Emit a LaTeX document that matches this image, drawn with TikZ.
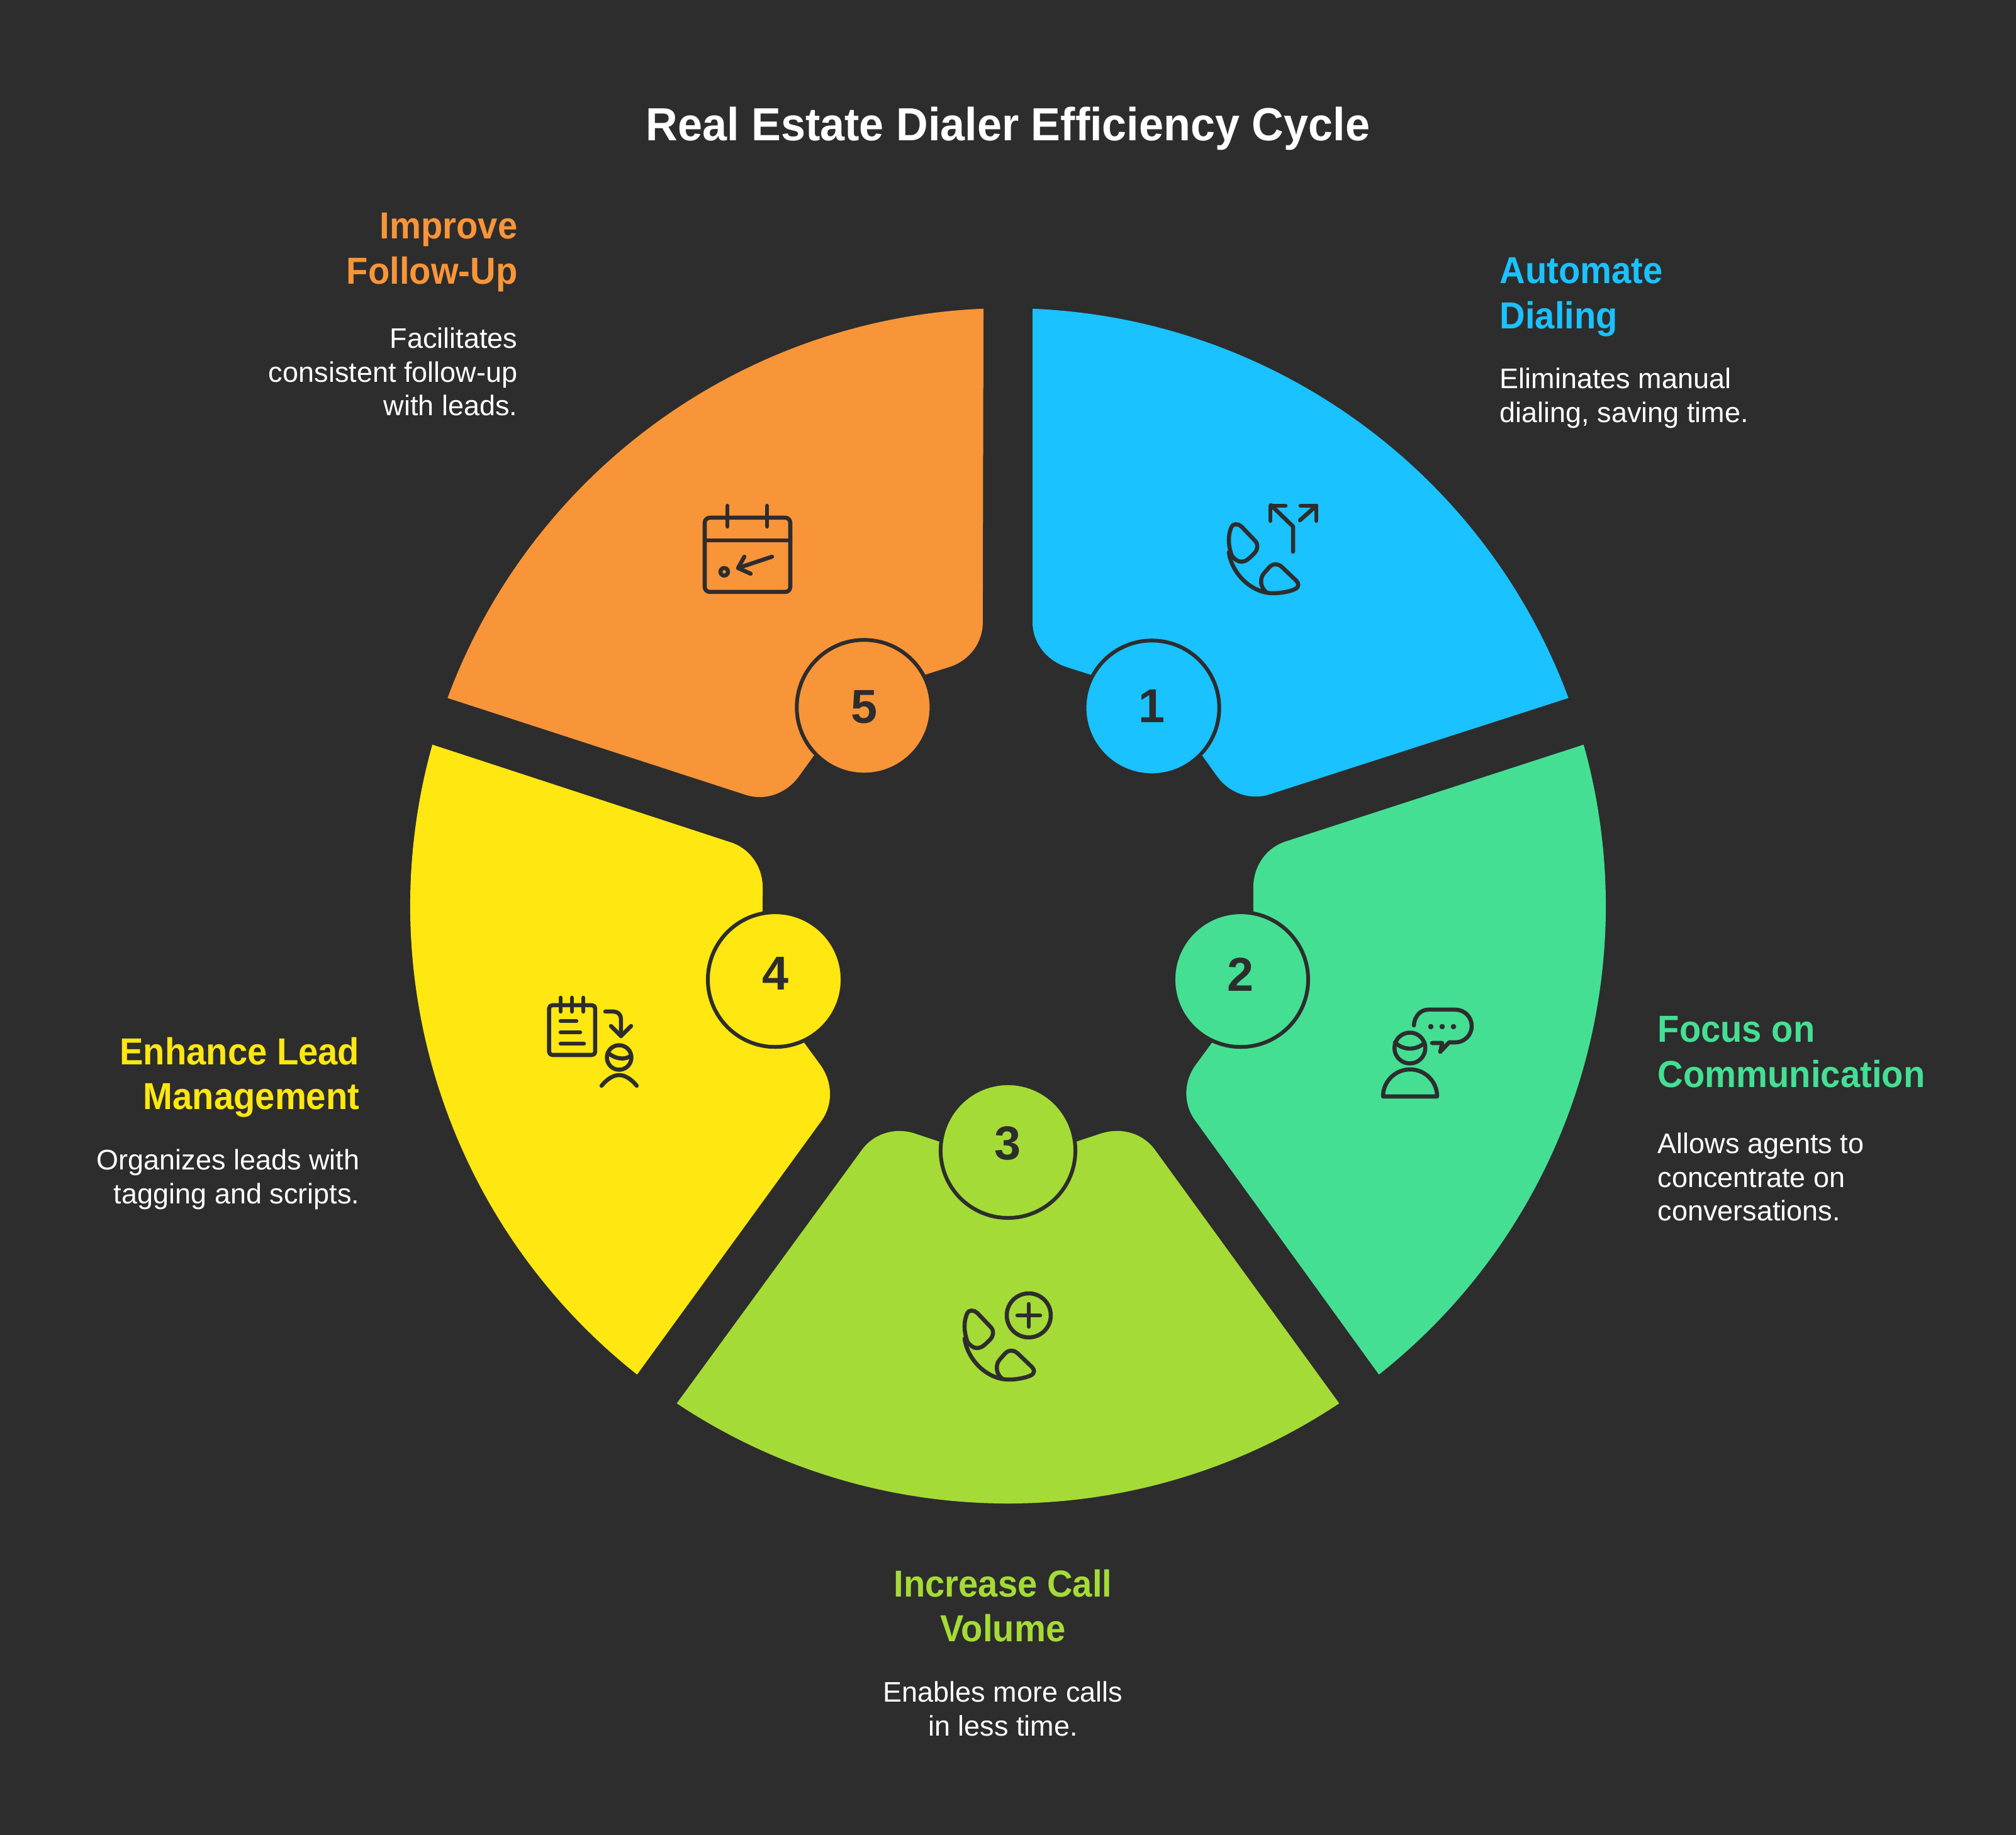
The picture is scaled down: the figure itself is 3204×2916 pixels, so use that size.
\documentclass[tikz,border=0pt]{standalone}
\usepackage{fontspec}
\setmainfont{Liberation Sans}
\newfontfamily\titlefont[FakeStretch=0.95]{Liberation Sans}
\newfontfamily\headfont[FakeStretch=0.94]{Liberation Sans}
\usepackage{tikz}

\definecolor{bgdark}{HTML}{2D2D2D}
\definecolor{autoblue}{HTML}{1AC2FF}
\definecolor{focusgreen}{HTML}{45DF93}
\definecolor{calllime}{HTML}{A5DB36}
\definecolor{leadyellow}{HTML}{FFE712}
\definecolor{followorange}{HTML}{F89539}

\tikzset{
    iconline/.style={draw=bgdark, line width=0.065cm, line cap=round, line join=round},
    numcircle/.style={circle, draw=bgdark, line width=0.06cm, minimum size=2.14cm, inner sep=0pt,
        text=bgdark, font=\fontsize{21.5}{24}\selectfont\bfseries},
    headtext/.style={inner sep=0pt, font=\headfont\fontsize{17}{20.3}\selectfont\bfseries},
    bodytext/.style={inner sep=0pt, text=white, font=\fontsize{12.8}{15.3}\selectfont},
    phoneicon/.pic={
        \draw[iconline] (38,-104) .. controls (30,-83) and (33,-67) .. (37,-58)
            .. controls (39,-52) and (48,-52) .. (53,-57) -- (75,-80)
            .. controls (80,-86) and (79,-93) .. (74,-99)
            .. controls (65,-108) and (60,-113) .. (53,-113)
            .. controls (46,-113) and (42,-108) .. (38,-104);
        \draw[iconline] (33,-98) .. controls (38,-133) and (70,-163) .. (103,-163)
            .. controls (117,-163) and (130,-160) .. (137,-157)
            .. controls (146,-153) and (144,-147) .. (140,-143) -- (117,-121)
            .. controls (112,-116) and (103,-115) .. (97,-122) -- (89,-131)
            .. controls (82,-139) and (82,-153) .. (93,-162);
    }
}

\begin{document}
\begin{tikzpicture}[x=0.01cm, y=0.01cm]
    \useasboundingbox (-1602,1440) rectangle (1602,-1476);
    \fill[bgdark] (-1610,1450) rectangle (1610,-1490);

    % wheel
    \foreach \i/\col/\lift/\drop in {1/autoblue/0.06/0,2/focusgreen/0.16/3,3/calllime/0.24/0,4/leadyellow/0.20/3,5/followorange/0.02/1}
    {
    \begin{scope}[rotate={-72*(\i-1)}]
    \fill[\col] (39,949.2) arc[start angle=87.65, end angle=20.35, radius=950]
        -- (418,178) .. controls (387,167) and (353,178) .. (333,205)
        -- (242,332) -- (92,380) .. controls (60,391) and (39,419) .. (39,451) -- cycle;
    \end{scope}
    \pgfmathsetmacro\ang{54-72*(\i-1)}
    \node[numcircle, fill=\col, yshift=\drop*0.01cm] (num\i) at (\ang:389) {\raisebox{\lift cm}{\i}};
    }

    % icons
    \begin{scope}[shift={(318,660)}]
    \pic {phoneicon};
    \draw[iconline] (135,-97) -- (135,-57) -- (100,-23);
    \draw[iconline] (99,-48) -- (99,-24) -- (123,-24);
    \draw[iconline] (146,-47) -- (172,-24);
    \draw[iconline] (147,-24) -- (172,-24) -- (172,-48);
    \end{scope}

    \begin{scope}[shift={(548,-130)}]
    \draw[iconline] (90.7,-96) circle (24.5);
    \draw[iconline] (67,-87) .. controls (80,-100) and (100,-100) .. (114,-88);
    \draw[iconline] (48,-173) arc[start angle=180, end angle=0, radius=43] -- cycle;
    \draw[iconline] (97,-60) .. controls (98,-45) and (108,-35) .. (120,-35) -- (163,-35)
        arc[start angle=90, end angle=-90, radius=26] -- (153,-87) -- (139,-102) -- (142,-88) -- (126,-88);
    \foreach \x in {124,142,160}
    {
    \fill[bgdark] (\x,-62) circle (4.3);
    }
    \end{scope}

    \begin{scope}[shift={(-102,-590)}]
    \pic {phoneicon};
    \draw[iconline] (135,-61) circle (35);
    \draw[iconline] (117,-61) -- (153,-61);
    \draw[iconline] (135,-43) -- (135,-79);
    \end{scope}

    \begin{scope}[shift={(-752,-130)}]
    \draw[iconline, rounded corners=0.05cm] (22.7,-28) rectangle (96,-107);
    \foreach \x in {41,59,77}
    {
    \draw[iconline] (\x,-16) -- (\x,-38);
    }
    \draw[iconline] (41,-53) -- (66,-53);
    \draw[iconline] (41,-71) -- (72,-71);
    \draw[iconline] (41,-89) -- (78,-89);
    \draw[iconline] (112,-38) -- (125,-38) .. controls (132,-38) and (137,-43) .. (137,-50) -- (137,-77);
    \draw[iconline] (121,-61) -- (137,-77) -- (153,-61);
    \draw[iconline] (134,-111) circle (19.5);
    \draw[iconline] (117,-104) .. controls (127,-113) and (143,-116) .. (153,-108);
    \draw[iconline] (106,-156) .. controls (115,-145) and (125,-139) .. (134,-139)
        .. controls (143,-139) and (153,-145) .. (162,-156);
    \end{scope}

    \begin{scope}[shift={(-512,660)}]
    \draw[iconline, rounded corners=0.08cm] (30,-43) rectangle (166,-161);
    \draw[iconline] (30,-79) -- (166,-79);
    \draw[iconline] (66,-24) -- (66,-57);
    \draw[iconline] (129,-24) -- (129,-57);
    \draw[iconline] (61,-129) circle (6);
    \draw[iconline] (137,-105) -- (83,-123);
    \draw[iconline] (93,-105) -- (83,-123) -- (103,-132);
    \end{scope}

    % texts
    \node[text=white, inner sep=0pt, font=\titlefont\fontsize{21}{26}\selectfont\bfseries] (title) at (0,1236) {Real Estate Dialer Efficiency Cycle};

    \node[headtext, text=autoblue, anchor=north west, align=left] (head1) at (781,1031) {Automate\\Dialing};
    \node[bodytext, anchor=north west, align=left] (body1) at (781,856) {Eliminates manual\\dialing, saving time.};

    \node[headtext, text=focusgreen, anchor=north west, align=left] (head2) at (1032,-175) {Focus on\\Communication};
    \node[bodytext, anchor=north west, align=left] (body2) at (1032,-360) {Allows agents to\\concentrate on\\conversations.};

    \node[headtext, text=calllime, anchor=north, align=center] (head3) at (-8,-1054) {Increase Call\\Volume};
    \node[bodytext, anchor=north, align=center] (body3) at (-8,-1232) {Enables more calls\\in less time.};

    \node[headtext, text=leadyellow, anchor=north east, align=right] (head4) at (-1030,-208) {Enhance Lead\\Management};
    \node[bodytext, anchor=north east, align=right] (body4) at (-1030,-386) {Organizes leads with\\tagging and scripts.};

    \node[headtext, text=followorange, anchor=north east, align=right] (head5) at (-779,1102) {Improve\\Follow-Up};
    \node[bodytext, anchor=north east, align=right] (body5) at (-779,920) {Facilitates\\consistent follow-up\\with leads.};
\end{tikzpicture}
\end{document}
